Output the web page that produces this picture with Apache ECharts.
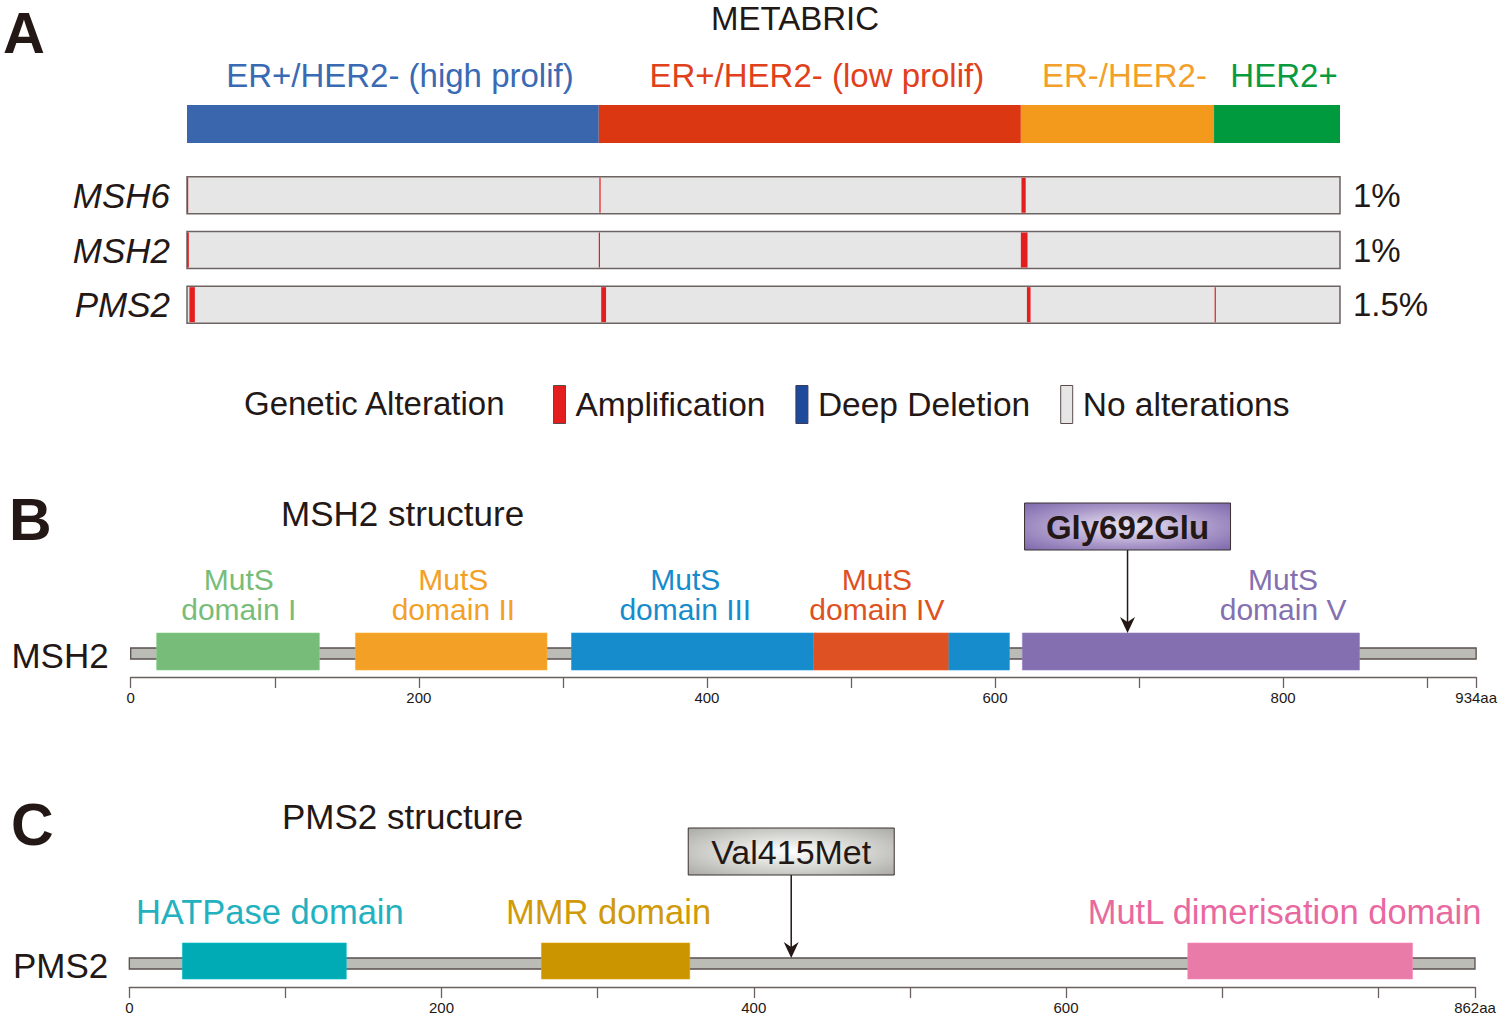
<!DOCTYPE html>
<html><head><meta charset="utf-8">
<script src="https://cdn.jsdelivr.net/npm/echarts@6/dist/echarts.min.js"></script>
<style>html,body{margin:0;padding:0;background:#fff}#c{width:1500px;height:1018px}</style>
</head><body><div id="c"></div>
<script>
const FONT = '"Liberation Sans", Arial, Helvetica, sans-serif';

// ---------- Panel A data (METABRIC oncoprint) ----------
const subtypeNames = ['ER+/HER2- (high prolif)', 'ER+/HER2- (low prolif)', 'ER-/HER2-', 'HER2+'];
const subtypeCounts = [680, 697, 319, 208];
const genes = ['MSH6', 'MSH2', 'PMS2'];
const alteredPercent = ['1%', '1%', '1.5%'];
// amplified samples: [first sample index, number of samples]
const msh6Amp = [[0, 2], [681, 2], [1378, 7]];
const msh2Amp = [[0, 3], [680, 2], [1377, 11]];
const pms2Amp = [[4, 9], [684, 8], [1387, 6], [1697, 2]];
const deepDeletions = [];
const legendNames = ['Amplification', 'Deep Deletion', 'No alterations'];

// ---------- Panel B data (MSH2 structure) ----------
const msh2Length = 934;
const msh2DomainStart = [18, 156, 306, 474, 568, 619];
const msh2DomainEnd = [131, 289, 474, 568, 610, 853];
const msh2DomainKind = [0, 1, 2, 3, 2, 4];
const msh2DomainLabels = [['MutS', 'domain I'], ['MutS', 'domain II'], ['MutS', 'domain III'], ['MutS', 'domain IV'], ['MutS', 'domain V']];
const msh2LabelPos = [75, 224, 385, 518, 800];
const msh2MutPos = 692;
const msh2MutLabel = 'Gly692Glu';

// ---------- Panel C data (PMS2 structure) ----------
const pms2Length = 862;
const pms2DomainStart = [34, 264, 678];
const pms2DomainEnd = [139, 359, 822];
const pms2DomainKind = [0, 1, 2];
const pms2DomainLabels = [['HATPase domain'], ['MMR domain'], ['MutL dimerisation domain']];
const pms2LabelPos = [90, 307, 740];
const pms2MutPos = 424;
const pms2MutLabel = 'Val415Met';

// ---------- styles ----------
const subtypeColors = ['#3a66ad', '#dc3713', '#f39a1c', '#009a3e'];
const subtypeTextColors = ['#3a6ab3', '#e0401c', '#f3a02a', '#0b9a3e'];
const ampColor = '#e41e1f';
const delColor = '#1d4a9a';
const noAltColor = '#e6e6e6';
const frameColor = '#6e6363';
const msh2Colors = ['#77bd79', '#f3a027', '#168ccc', '#de5122', '#8470b0'];
const pms2Colors = ['#00abb6', '#cb9500', '#e97ba9'];
const pms2TextColors = ['#23b1c0', '#d09a0a', '#e8699f'];
const ink = '#231815';

const totalSamples = subtypeCounts.reduce((a, b) => a + b, 0);
let acc = 0;
const subtypeData = subtypeCounts.map((c, i) => { const r = [acc, acc + c, 0, i]; acc += c; return r; });
const trackData = genes.map((g, i) => [0, totalSamples, i]);
const ampData = [];
[msh6Amp, msh2Amp, pms2Amp].forEach((arr, gi) => arr.forEach(a => ampData.push([a[0], a[0] + a[1], gi])));

function domainData(starts, ends, kinds) { return starts.map((s, i) => [s, ends[i], 0, kinds[i]]); }

function axisFor(gridIndex, len) {
  return {
    gridIndex, type: 'value', min: 0, max: len, interval: 100,
    axisLine: { show: true, lineStyle: { color: '#6b6060', width: 1.3 } },
    axisTick: { show: true, length: 11, lineStyle: { color: '#6b6060', width: 1.3 } },
    axisLabel: {
      showMinLabel: true, showMaxLabel: true, hideOverlap: false,
      formatter: v => v === len ? len + 'aa' : ((v % 200 === 0 && len - v >= 100) ? String(v) : ''),
      fontSize: 15, fontFamily: FONT, color: ink, margin: 13
    },
    splitLine: { show: false }
  };
}

function proteinSeries(gridIdx, len, starts, ends, kinds, colors, labels, labelPos, labelColors, cfg, mutPos, mutLabel, mutStyle) {
  const domains = domainData(starts, ends, kinds);
  const series = [];
  series.push({
    type: 'custom', xAxisIndex: gridIdx, yAxisIndex: gridIdx + 1, silent: true,
    data: [[0, len, 0]], encode: { x: [0, 1], y: 2 },
    renderItem: (params, api) => {
      const cs = params.coordSys;
      const x0 = api.coord([api.value(0), 0])[0], x1 = api.coord([api.value(1), 0])[0];
      return { type: 'rect', shape: { x: x0, y: cs.y + 15, width: x1 - x0, height: 11 },
        style: { fill: '#bbbcb5', stroke: '#5a4f4f', lineWidth: 1.3 } };
    }
  });
  series.push({
    type: 'custom', xAxisIndex: gridIdx, yAxisIndex: gridIdx + 1, silent: true,
    data: domains, encode: { x: [0, 1], y: 2 },
    renderItem: (params, api) => {
      const cs = params.coordSys;
      const x0 = api.coord([api.value(0), 0])[0], x1 = api.coord([api.value(1), 0])[0];
      const c = colors[api.value(3)];
      return { type: 'rect', shape: { x: x0, y: cs.y, width: x1 - x0, height: cfg.domainH },
        style: { fill: c, stroke: echarts.color.lift(c, -0.12), lineWidth: 0.6 } };
    }
  });
  series.push({
    type: 'custom', xAxisIndex: gridIdx, yAxisIndex: gridIdx + 1, silent: true,
    data: labels.map((t, i) => [labelPos[i], 0, i]), encode: { x: 0, y: 1 },
    renderItem: (params, api) => {
      const cs = params.coordSys;
      const i = api.value(2);
      const x = api.coord([api.value(0), 0])[0];
      const lines = labels[i];
      const n = lines.length;
      return { type: 'group', children: lines.map((t, k) => ({
        type: 'text', x: x, y: cs.y - cfg.labelOffset + (k - (n - 1) / 2) * cfg.lineGap,
        style: { text: t, fill: labelColors[i], font: cfg.labelFont,
          align: 'center', verticalAlign: 'middle', textAlign: 'center', textVerticalAlign: 'middle' } })) };
    }
  });
  series.push({
    type: 'custom', xAxisIndex: gridIdx, yAxisIndex: gridIdx + 1, silent: true,
    data: [[mutPos, 0]], encode: { x: 0, y: 1 },
    renderItem: (params, api) => {
      const cs = params.coordSys;
      const p = api.value(0);
      const x = api.coord([p, 0])[0];
      const inDomain = domains.some(d => p >= d[0] && p <= d[1]);
      const tip = inDomain ? cs.y : cs.y + 15;
      const boxBottom = tip - 83;
      const grad = new echarts.graphic.RadialGradient(0.5, 0.5, 0.75, mutStyle.stops);
      return { type: 'group', children: [
        { type: 'line', shape: { x1: x, y1: boxBottom, x2: x, y2: tip - 8 }, style: { stroke: ink, lineWidth: 1.5 } },
        { type: 'polygon', shape: { points: [[x - 7.5, tip - 16], [x, tip - 11], [x + 7.5, tip - 16], [x, tip]] }, style: { fill: ink } },
        { type: 'rect', shape: { x: x - 103, y: boxBottom - 47, width: 206, height: 47 }, style: { fill: grad, stroke: '#3a3030', lineWidth: 1 } },
        { type: 'text', x: x, y: boxBottom - 23, style: { text: mutLabel, fill: ink, font: mutStyle.font,
          align: 'center', verticalAlign: 'middle', textAlign: 'center', textVerticalAlign: 'middle' } }
      ] };
    }
  });
  return series;
}

const chart = echarts.init(document.getElementById('c'), null, { renderer: 'svg', width: 1500, height: 1018 });

const hiddenX = gi => ({ gridIndex: gi, type: 'value', min: 0, max: totalSamples, show: false });
const midText = (x, y, text, font, align) => ({ type: 'text', x, y, style: { text, font, fill: ink,
  align: align || 'left', verticalAlign: 'middle', textAlign: align || 'left', textVerticalAlign: 'middle' } });

const option = {
  backgroundColor: '#ffffff',
  animation: false,
  textStyle: { fontFamily: FONT },
  grid: [
    { left: 187, right: 160, top: 105, height: 38 },
    { left: 187, right: 160, top: 168, height: 164 },
    { left: 130.7, right: 22.7, top: 633, height: 44 },
    { left: 129.3, right: 25, top: 943, height: 44 }
  ],
  xAxis: [hiddenX(0), hiddenX(1), axisFor(2, msh2Length), axisFor(3, pms2Length)],
  yAxis: [
    { gridIndex: 0, type: 'category', data: ['subtype'], show: false },
    { gridIndex: 1, type: 'category', data: genes, inverse: true,
      axisLine: { show: false }, axisTick: { show: false }, splitLine: { show: false },
      axisLabel: { fontSize: 35, fontStyle: 'italic', color: ink, margin: 17, fontFamily: FONT } },
    { gridIndex: 1, type: 'category', data: alteredPercent, inverse: true, position: 'right',
      axisLine: { show: false }, axisTick: { show: false }, splitLine: { show: false },
      axisLabel: { fontSize: 33, color: ink, margin: 13, fontFamily: FONT } },
    { gridIndex: 2, type: 'category', data: ['MSH2'],
      axisLine: { show: false }, axisTick: { show: false }, splitLine: { show: false },
      axisLabel: { fontSize: 35, color: ink, margin: 22, fontFamily: FONT } },
    { gridIndex: 3, type: 'category', data: ['PMS2'],
      axisLine: { show: false }, axisTick: { show: false }, splitLine: { show: false },
      axisLabel: { fontSize: 35, color: ink, margin: 21, fontFamily: FONT } }
  ],
  legend: {
    left: 553, top: 385, padding: 0, itemWidth: 12, itemHeight: 38, itemGap: 30, selectedMode: false,
    textStyle: { fontSize: 33.5, color: ink, fontFamily: FONT, padding: [0, 0, 0, 5] },
    data: [
      { name: legendNames[0], icon: 'rect', itemStyle: { color: ampColor, borderColor: '#5a4a4a', borderWidth: 1 } },
      { name: legendNames[1], icon: 'rect', itemStyle: { color: delColor, borderColor: '#3a3a5a', borderWidth: 1 } },
      { name: legendNames[2], icon: 'rect', itemStyle: { color: noAltColor, borderColor: '#5a4a4a', borderWidth: 1 } }
    ]
  },
  graphic: [
    midText(3, 32, 'A', 'bold 58px ' + FONT),
    midText(795, 18, 'METABRIC', '33px ' + FONT, 'center'),
    midText(244, 403, 'Genetic Alteration', '33px ' + FONT),
    midText(9, 520, 'B', 'bold 59px ' + FONT),
    midText(281, 513, 'MSH2 structure', '35px ' + FONT),
    midText(11, 825, 'C', 'bold 59px ' + FONT),
    midText(282, 816, 'PMS2 structure', '35px ' + FONT)
  ],
  series: [
    {
      type: 'custom', name: 'subtypes', xAxisIndex: 0, yAxisIndex: 0, silent: true,
      data: subtypeData, encode: { x: [0, 1], y: 2 },
      renderItem: (params, api) => {
        const cs = params.coordSys;
        const i = api.value(3);
        const x0 = api.coord([api.value(0), 0])[0], x1 = api.coord([api.value(1), 0])[0];
        return { type: 'group', children: [
          { type: 'rect', shape: { x: x0, y: cs.y, width: x1 - x0, height: cs.height }, style: { fill: subtypeColors[i] } },
          { type: 'text', x: (x0 + x1) / 2 + 7, y: cs.y - 30, style: { text: subtypeNames[i], fill: subtypeTextColors[i], font: '33px ' + FONT,
            align: 'center', verticalAlign: 'middle', textAlign: 'center', textVerticalAlign: 'middle' } }
        ] };
      }
    },
    {
      type: 'custom', name: legendNames[2], xAxisIndex: 1, yAxisIndex: 1, silent: true,
      itemStyle: { color: noAltColor },
      data: trackData, encode: { x: [0, 1], y: 2 },
      renderItem: (params, api) => {
        const x0 = api.coord([api.value(0), api.value(2)])[0], x1 = api.coord([api.value(1), api.value(2)])[0];
        const yc = api.coord([0, api.value(2)])[1];
        return { type: 'rect', shape: { x: x0, y: yc - 18.5, width: x1 - x0, height: 37 },
          style: { fill: noAltColor, stroke: frameColor, lineWidth: 1.5 } };
      }
    },
    {
      type: 'custom', name: legendNames[0], xAxisIndex: 1, yAxisIndex: 1, silent: true,
      itemStyle: { color: ampColor },
      data: ampData, encode: { x: [0, 1], y: 2 },
      renderItem: (params, api) => {
        const x0 = api.coord([api.value(0), api.value(2)])[0], x1 = api.coord([api.value(1), api.value(2)])[0];
        const yc = api.coord([0, api.value(2)])[1];
        return { type: 'rect', shape: { x: x0, y: yc - 17.5, width: x1 - x0, height: 35 }, style: { fill: ampColor } };
      }
    },
    {
      type: 'custom', name: legendNames[1], xAxisIndex: 1, yAxisIndex: 1, silent: true,
      itemStyle: { color: delColor },
      data: deepDeletions, encode: { x: [0, 1], y: 2 },
      renderItem: (params, api) => {
        const x0 = api.coord([api.value(0), api.value(2)])[0], x1 = api.coord([api.value(1), api.value(2)])[0];
        const yc = api.coord([0, api.value(2)])[1];
        return { type: 'rect', shape: { x: x0, y: yc - 17.5, width: x1 - x0, height: 35 }, style: { fill: delColor } };
      }
    },
    ...proteinSeries(2, msh2Length, msh2DomainStart, msh2DomainEnd, msh2DomainKind, msh2Colors,
      msh2DomainLabels, msh2LabelPos, msh2Colors,
      { domainH: 37, labelOffset: 39, lineGap: 30, labelFont: '30px ' + FONT },
      msh2MutPos, msh2MutLabel,
      { font: 'bold 33px ' + FONT, stops: [{ offset: 0, color: '#eee8f4' }, { offset: 0.55, color: '#a896c8' }, { offset: 1, color: '#7561a6' }] }),
    ...proteinSeries(3, pms2Length, pms2DomainStart, pms2DomainEnd, pms2DomainKind, pms2Colors,
      pms2DomainLabels, pms2LabelPos, pms2TextColors,
      { domainH: 36, labelOffset: 31, lineGap: 30, labelFont: '34.5px ' + FONT },
      pms2MutPos, pms2MutLabel,
      { font: '34px ' + FONT, stops: [{ offset: 0, color: '#ffffff' }, { offset: 0.55, color: '#cfd0cb' }, { offset: 1, color: '#a3a49e' }] })
  ]
};
chart.setOption(option);
</script>
</body></html>
